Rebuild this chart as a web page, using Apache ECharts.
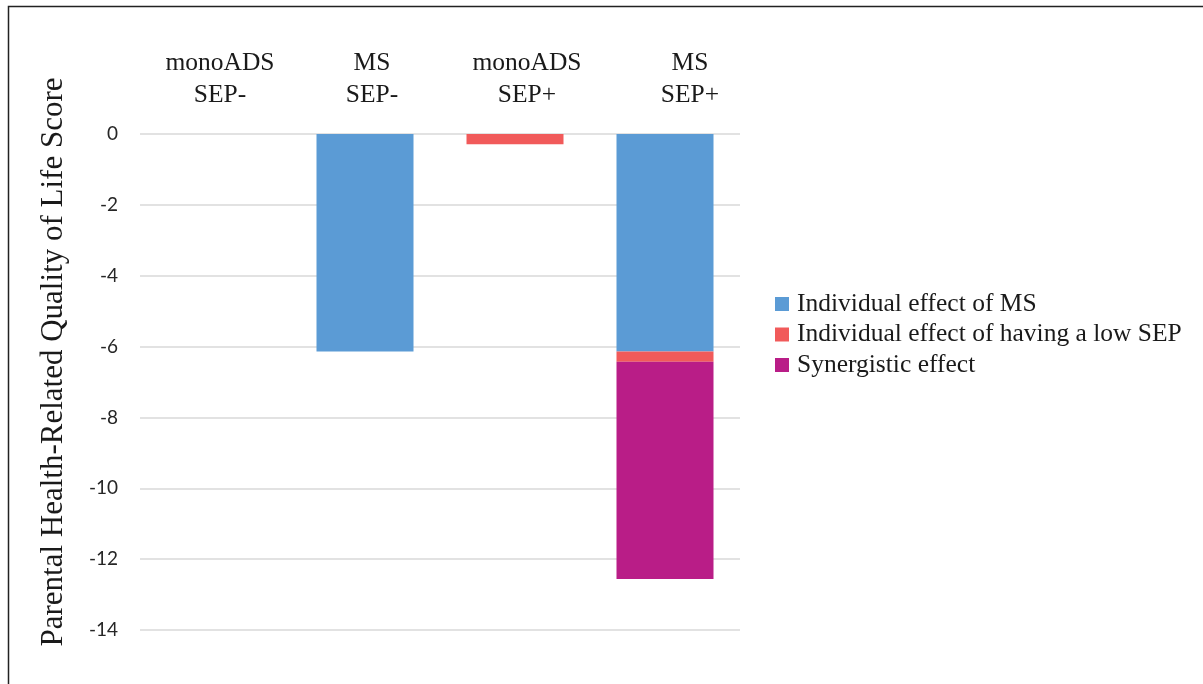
<!DOCTYPE html>
<html>
<head>
<meta charset="utf-8">
<script src="https://cdn.jsdelivr.net/npm/echarts@6/dist/echarts.min.js"></script>
<style>
html,body{margin:0;padding:0;background:#fff;}
#chart{width:1203px;height:684px;}
</style>
</head>
<body>
<div id="chart"></div>
<script>
const categories = ['monoADS\nSEP-', 'MS\nSEP-', 'monoADS\nSEP+', 'MS\nSEP+'];
const labelShift = [10, 14, 24, 50];
const seriesNames = ['Individual effect of MS', 'Individual effect of having a low SEP', 'Synergistic effect'];
const msEffect = [0, -6.14, 0, -6.14];
const sepEffect = [0, 0, -0.29, -0.29];
const synergyEffect = [0, 0, 0, -6.13];
const yTicks = [0, -2, -4, -6, -8, -10, -12, -14];
const colors = ['#5B9BD5', '#F15A5A', '#B91D87'];

const chart = echarts.init(document.getElementById('chart'));
const serif = '"Liberation Serif", "DejaVu Serif", serif';
const mk = (name, data, color) => ({
  name: name, type: 'bar', stack: 'total', data: data,
  barWidth: 97, itemStyle: {color: color}, emphasis: {disabled: true}
});
chart.setOption({
  animation: false,
  backgroundColor: '#fff',
  grid: {left: 140, right: 463, top: 134, bottom: 54, containLabel: false},
  xAxis: {
    type: 'category', position: 'top', data: categories,
    axisLine: {show: false}, axisTick: {show: false},
    axisLabel: {
      margin: 23, interval: 0,
      formatter: function (v, i) { return '{c' + i + '|' + v + '}'; },
      rich: (function () {
        const r = {};
        labelShift.forEach(function (p, i) {
          r['c' + i] = {fontFamily: serif, fontSize: 25.5, lineHeight: 32, color: '#1a1a1a', padding: [0, 0, 0, p], align: 'center'};
        });
        return r;
      })()
    }
  },
  yAxis: {
    type: 'value', min: -14, max: 0, interval: 2,
    axisLine: {show: false}, axisTick: {show: false},
    splitLine: {lineStyle: {color: '#d9d9d9', width: 1.5}},
    axisLabel: {fontFamily: 'Lato, "Open Sans", sans-serif', fontSize: 19, color: '#262626', margin: 22,
      formatter: function (v) { return yTicks.indexOf(v) >= 0 ? String(v) : ''; }}
  },
  legend: {
    orient: 'vertical', left: 770, top: 286,
    itemWidth: 14, itemHeight: 14, itemGap: 4.5, icon: 'rect',
    data: seriesNames,
    textStyle: {fontFamily: serif, fontSize: 25.5, lineHeight: 25, color: '#1a1a1a', padding: [0, 0, 0, 3]}
  },
  graphic: [
    {type: 'rect', shape: {x: 8.5, y: 6.5, width: 1300, height: 800}, style: {fill: 'none', stroke: '#222', lineWidth: 1.5}, silent: true},
    {type: 'text', x: 54, y: 362, rotation: Math.PI / 2,
      style: {text: 'Parental Health-Related Quality of Life Score', fontFamily: serif, fontSize: 31, fill: '#1a1a1a', align: 'center', verticalAlign: 'middle'}}
  ],
  series: [
    mk(seriesNames[0], msEffect, colors[0]),
    mk(seriesNames[1], sepEffect, colors[1]),
    mk(seriesNames[2], synergyEffect, colors[2])
  ]
});
</script>
</body>
</html>
